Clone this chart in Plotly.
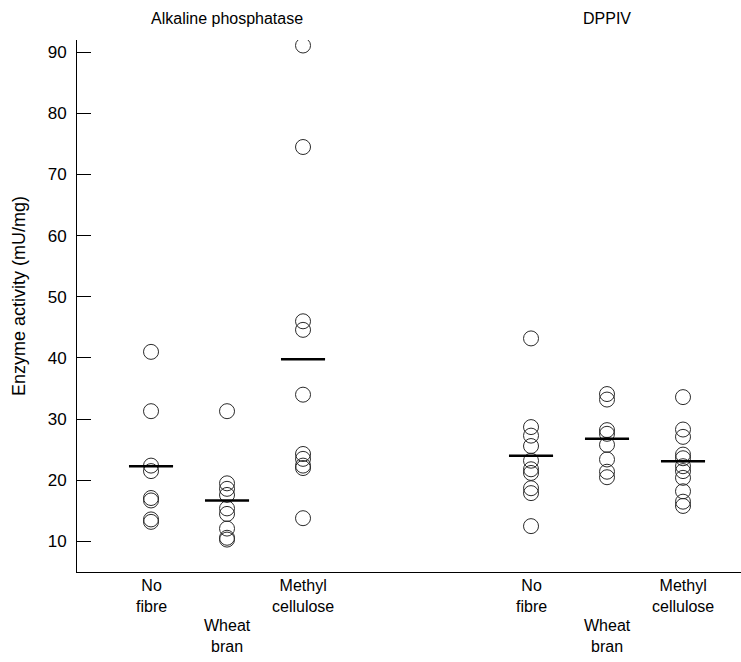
import plotly.graph_objects as go

# ---- data ----
panels = ["Alkaline phosphatase", "DPPIV"]
diets = ["No<br>fibre", "Wheat<br>bran", "Methyl<br>cellulose"]
positions = [[1, 2, 3], [6, 7, 8]]

alk_no_fibre = [41.0, 31.3, 22.4, 21.5, 17.1, 16.7, 13.6, 13.2]
alk_wheat_bran = [31.3, 19.5, 18.6, 17.6, 15.4, 14.5, 12.1, 10.6, 10.3]
alk_methyl_cellulose = [91.1, 74.5, 46.0, 44.6, 34.0, 24.3, 23.5, 22.4, 22.0, 13.8]
dppiv_no_fibre = [43.2, 28.7, 27.3, 25.6, 23.2, 21.8, 21.2, 18.7, 17.9, 12.5]
dppiv_wheat_bran = [34.1, 33.2, 28.2, 27.6, 25.8, 23.4, 21.4, 20.5]
dppiv_methyl_cellulose = [33.6, 28.3, 27.1, 24.2, 23.6, 22.3, 21.5, 20.4, 18.2, 16.5, 15.8]

alk_means = [22.3, 16.7, 39.8]
dppiv_means = [24.0, 26.8, 23.1]

y_ticks = [10, 20, 30, 40, 50, 60, 70, 80, 90]

groups = [
    [alk_no_fibre, alk_wheat_bran, alk_methyl_cellulose],
    [dppiv_no_fibre, dppiv_wheat_bran, dppiv_methyl_cellulose],
]
means = [alk_means, dppiv_means]

FONT = "Liberation Sans, Arial, sans-serif"
fig = go.Figure()

half = 0.29
for p in range(2):
    for g in range(3):
        vals = groups[p][g]
        xpos = positions[p][g]
        fig.add_trace(go.Scatter(
            x=[xpos] * len(vals), y=vals, mode="markers",
            marker=dict(symbol="circle-open", size=15, color="#2a2a2a",
                        line=dict(width=1, color="#2a2a2a")),
            showlegend=False, hoverinfo="y"))
        m = means[p][g]
        fig.add_trace(go.Scatter(
            x=[xpos - half, xpos + half], y=[m, m], mode="lines",
            line=dict(color="black", width=2.6),
            showlegend=False, hoverinfo="y"))

annotations = []
for p in range(2):
    annotations.append(dict(
        x=positions[p][1], y=1.041, xref="x", yref="paper",
        text=panels[p], showarrow=False, xanchor="center", yanchor="middle",
        font=dict(size=16, family=FONT, color="black")))
    for g in range(3):
        annotations.append(dict(
            x=positions[p][g], y=(-0.006 if g != 1 else -0.081),
            xref="x", yref="paper", text=diets[g], showarrow=False,
            xanchor="center", yanchor="top",
            font=dict(size=16, family=FONT, color="black")))

annotations.append(dict(
    x=-0.0873, y=0.519, xref="paper", yref="paper",
    text="Enzyme activity (mU/mg)", textangle=-90, showarrow=False,
    xanchor="center", yanchor="middle",
    font=dict(size=18, family=FONT, color="black")))

fig.update_layout(
    width=741, height=662,
    margin=dict(l=77, r=0, t=40, b=90),
    plot_bgcolor="white", paper_bgcolor="white",
    font=dict(family=FONT, color="black"),
    annotations=annotations,
    xaxis=dict(range=[0.026, 8.763], showline=True, linecolor="black",
               linewidth=1, showgrid=False, zeroline=False,
               showticklabels=False, ticks="", automargin=False),
    yaxis=dict(range=[5, 92], showline=True, linecolor="black", linewidth=1,
               showgrid=False, zeroline=False, ticks="inside", ticklen=14,
               tickcolor="black", tickwidth=1, tickvals=y_ticks,
               ticklabelstandoff=6, automargin=False,
               tickfont=dict(size=17, family=FONT, color="black")),
)

fig.write_html("out.html", config={"displayModeBar": False})

# remove the default 8px page margin so the figure sits at the window origin
with open("out.html", encoding="utf-8") as f:
    html = f.read()
html = html.replace("<head>", "<head><style>html,body{margin:0;padding:0;}</style>", 1)
with open("out.html", "w", encoding="utf-8") as f:
    f.write(html)
